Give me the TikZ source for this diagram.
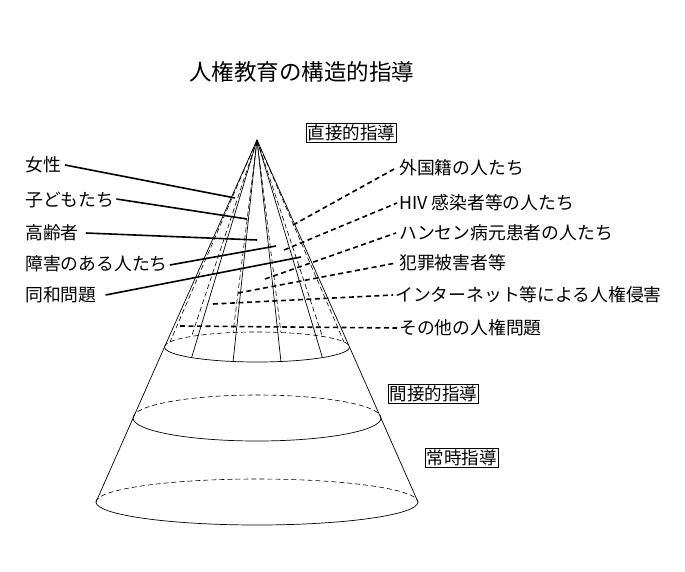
\documentclass[tikz,border=0pt]{standalone}
\usepackage{fontspec}
\setmainfont{Noto Sans CJK JP}
\begin{document}
\begin{tikzpicture}[x=1pt,y=-1pt,
  lbl/.style={inner sep=0pt,font=\fontsize{17.8}{17.8}\selectfont},
  boxlbl/.style={draw,line width=0.8pt,inner xsep=1.5pt,inner ysep=1.5pt,font=\fontsize{17.5}{17.5}\selectfont},
  cone/.style={line width=0.7pt},
  hid/.style={line width=0.6pt,dash pattern=on 5pt off 3pt},
  lconn/.style={line width=1.6pt},
  rconn/.style={line width=1.6pt,dash pattern=on 5pt off 3.5pt}]
\fill[white] (0,0) rectangle (685,572);
\useasboundingbox (0,0) rectangle (685,572);
% title
\node[inner sep=0pt,font=\fontsize{22.5}{22.5}\selectfont] (title) at (301.5,72) {人権教育の構造的指導};
% cone
\coordinate (A) at (257,140);
\coordinate (T1) at (164.5,347);
\coordinate (T2) at (349.5,347);
\coordinate (B1) at (96,502);
\coordinate (B2) at (418,502);
\draw[cone] (A) -- (T1) -- (B1);
\draw[cone] (A) -- (T2) -- (B2);
% top ellipse
\draw[cone] (T1) arc[start angle=180,end angle=0,x radius=92.5,y radius=15];
\draw[hid] (T1) arc[start angle=180,end angle=360,x radius=92.5,y radius=15];
% middle ellipse
\draw[cone] (133,418) arc[start angle=180,end angle=0,x radius=124,y radius=23];
\draw[hid] (133,418) arc[start angle=180,end angle=360,x radius=124,y radius=23];
% bottom ellipse
\draw[cone] (B1) arc[start angle=180,end angle=0,x radius=161,y radius=23];
\draw[hid] (B1) arc[start angle=180,end angle=360,x radius=161,y radius=23];
% sector lines
\foreach \t in {45,75,105,135}
  \draw[cone] (A) -- ({257+92.5*cos(\t)},{347+15*sin(\t)});
\foreach \t in {200,225,255,285,315,340}
  \draw[hid] (A) -- ({257+92.5*cos(\t)},{347+15*sin(\t)});
% boxed labels
\node[boxlbl] (direct) at (351.5,132.5) {直接的指導};
\node[boxlbl] (indirect) at (433.5,394) {間接的指導};
\node[boxlbl] (always) at (461.5,457.5) {常時指導};
% left labels
\node[lbl,anchor=west] (l1) at (25,165) {女性};
\node[lbl,anchor=west] (l2) at (25,200) {子どもたち};
\node[lbl,anchor=west] (l3) at (25,233) {高齢者};
\node[lbl,anchor=west] (l4) at (25,264) {障害のある人たち};
\node[lbl,anchor=west] (l5) at (25,295) {同和問題};
\coordinate (e1) at (235,198);
\coordinate (e2) at (247,219);
\coordinate (e3) at (257,240);
\coordinate (e4) at (276,246);
\coordinate (e5) at (301,257);
\draw[lconn] (l1.east) ++(4,0) -- (e1);
\draw[lconn] (l2.east) ++(2,-1) -- (e2);
\draw[lconn] (l3.east) ++(7,0) -- (e3);
\draw[lconn] (l4.east) ++(2,1) -- (e4);
\draw[lconn] (l5.east) ++(9,0) -- (e5);
% right labels
\node[lbl,anchor=west] (r1) at (399,168) {外国籍の人たち};
\node[lbl,anchor=west] (r2) at (399,203) {HIV 感染者等の人たち};
\node[lbl,anchor=west] (r3) at (399,233) {ハンセン病元患者の人たち};
\node[lbl,anchor=west] (r4) at (399,263) {犯罪被害者等};
\node[lbl,anchor=west] (r5) at (395,295) {インターネット等による人権侵害};
\node[lbl,anchor=west] (r6) at (399,328) {その他の人権問題};
\coordinate (s1) at (293,225);
\coordinate (s2) at (284,250);
\coordinate (s3) at (265,279);
\coordinate (s4) at (238,293);
\coordinate (s5) at (213,304);
\coordinate (s6) at (180,326);
\draw[rconn] (s1) -- ([xshift=-3pt]r1.west);
\draw[rconn] (s2) -- ([xshift=-2pt]r2.west);
\draw[rconn] (s3) -- ([xshift=-3pt]r3.west);
\draw[rconn] (s4) -- ([xshift=-3pt]r4.west);
\draw[rconn] (s5) -- ([xshift=-2pt]r5.west);
\draw[rconn] (s6) -- ([xshift=-2pt]r6.west);
\end{tikzpicture}
\end{document}
